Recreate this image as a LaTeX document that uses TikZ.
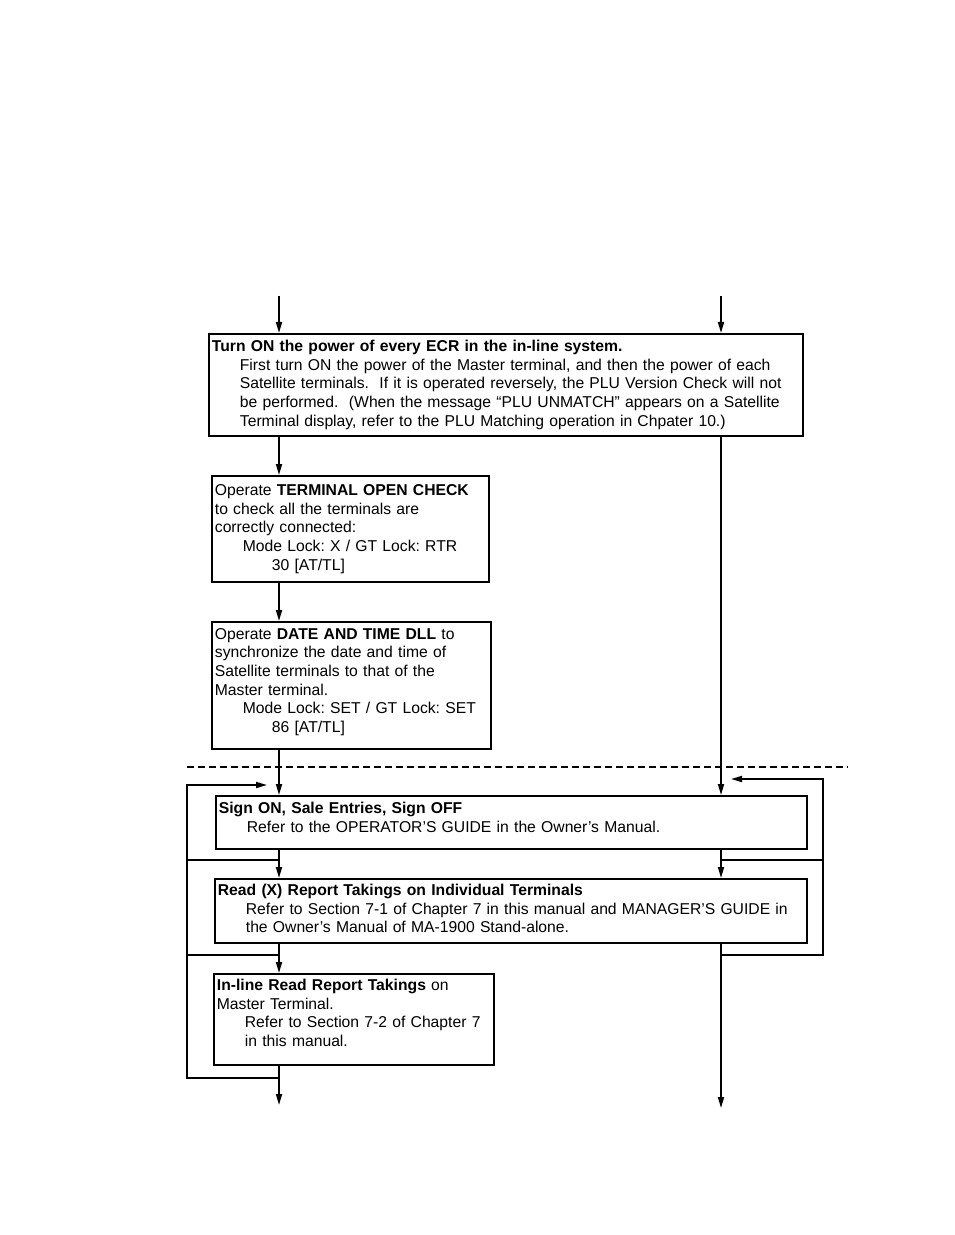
\documentclass[tikz,border=0pt]{standalone}
\usepackage{fontspec}
\setmainfont{Liberation Sans}
\usetikzlibrary{arrows.meta}
\newcommand{\indA}{\hspace*{14pt}}
\newcommand{\indB}{\hspace*{28.5pt}}
\newcommand{\lift}[1]{\rule[-#1]{0pt}{#1}}
\frenchspacing

\begin{document}
\begin{tikzpicture}[x=0.5pt, y=0.5pt,
    box/.style={rectangle, draw, line width=0.9pt, anchor=north west, align=left, inner xsep=1.5pt, inner ysep=0pt, font=\fontsize{7.85}{9.35}\selectfont},
    arrow/.style={-{Triangle[length=5.5pt, width=3pt]}, line width=0.85pt},
    link/.style={line width=0.85pt}]
    \useasboundingbox (0,0) rectangle (954,-1235);

    % boxes
    \node[box, text width=294pt, minimum height=51pt] (power) at (208,-333) {\textbf{Turn ON the power of every ECR in the in-line system.}\\
        \indA First turn ON the power of the Master terminal, and then the power of each\\
        \indA Satellite terminals.\ \ If it is operated reversely, the PLU Version Check will not\\
        \indA be performed.\ \ (When the message “PLU UNMATCH” appears on a Satellite\\
        \indA Terminal display, refer to the PLU Matching operation in Chpater 10.)};
    \node[box, text width=135.5pt, minimum height=53pt] (check) at (211,-475) {Operate \textbf{TERMINAL OPEN CHECK}\\
        to check all the terminals are\\
        correctly connected:\\
        \indA Mode Lock: X / GT Lock: RTR\\
        \indB 30 [AT/TL]};
    \node[box, text width=136.5pt, minimum height=63.5pt] (dll) at (211,-621) {Operate \textbf{DATE AND TIME DLL} to\\
        synchronize the date and time of\\
        Satellite terminals to that of the\\
        Master terminal.\\
        \indA Mode Lock: SET / GT Lock: SET\\
        \indB 86 [AT/TL]\lift{5pt}};
    \node[box, text width=292.5pt, minimum height=26.5pt] (sign) at (215,-795) {\textbf{Sign ON, Sale Entries, Sign OFF}\\
        \indA Refer to the OPERATOR’S GUIDE in the Owner’s Manual.\lift{5pt}};
    \node[box, text width=293pt, minimum height=32pt] (readx) at (214,-878) {\textbf{Read (X) Report Takings on Individual Terminals}\\
        \indA Refer to Section 7-1 of Chapter 7 in this manual and MANAGER’S GUIDE in\\
        \indA the Owner’s Manual of MA-1900 Stand-alone.\lift{2.5pt}};
    \node[box, text width=137pt, minimum height=45.5pt] (inread) at (213,-973) {\textbf{In-line Read Report Takings} on\\
        Master Terminal.\\
        \indA Refer to Section 7-2 of Chapter 7\\
        \indA in this manual.\lift{6.5pt}};

    % points
    \coordinate (inL) at (279,-296);
    \coordinate (inR) at (721,-296);
    \coordinate (outL) at (279,-1105);
    \coordinate (outR) at (721,-1108);
    \coordinate (gapA) at (0,-860);
    \coordinate (gapB) at (0,-955);
    \coordinate (backL) at (187,-1078);
    \coordinate (topL) at (187,-785);
    \coordinate (tipL) at (267,-785);
    \coordinate (topR) at (823,-779);
    \coordinate (tipR) at (731,-779);
    \coordinate (dashL) at (187,-767);
    \coordinate (dashR) at (848,-767);

    % arrows
    \draw[arrow] (inL) -- (inL |- power.north);
    \draw[arrow] (inR) -- (inR |- power.north);
    \draw[arrow] (inL |- power.south) -- (inL |- check.north);
    \draw[arrow] (inL |- check.south) -- (inL |- dll.north);
    \draw[arrow] (inL |- dll.south) -- (inL |- sign.north);
    \draw[arrow] (inR |- power.south) -- (inR |- sign.north);
    \draw[arrow] (inL |- sign.south) -- (inL |- readx.north);
    \draw[arrow] (inR |- sign.south) -- (inR |- readx.north);
    \draw[arrow] (inL |- readx.south) -- (inL |- inread.north);
    \draw[arrow] (inR |- readx.south) -- (outR);
    \draw[arrow] (inL |- inread.south) -- (outL);

    % loops
    \draw[arrow] (inL |- backL) -- (backL) -- (topL) -- (tipL);
    \draw[link] (inL |- gapA) -- (backL |- gapA);
    \draw[link] (inL |- gapB) -- (backL |- gapB);
    \draw[arrow] (inR |- gapB) -- (topR |- gapB) -- (topR) -- (tipR);
    \draw[link] (inR |- gapA) -- (topR |- gapA);

    % divider
    \draw[dashed, line width=0.6pt, dash pattern=on 3.5pt off 2pt] (dashL) -- (dashR);
\end{tikzpicture}
\end{document}
